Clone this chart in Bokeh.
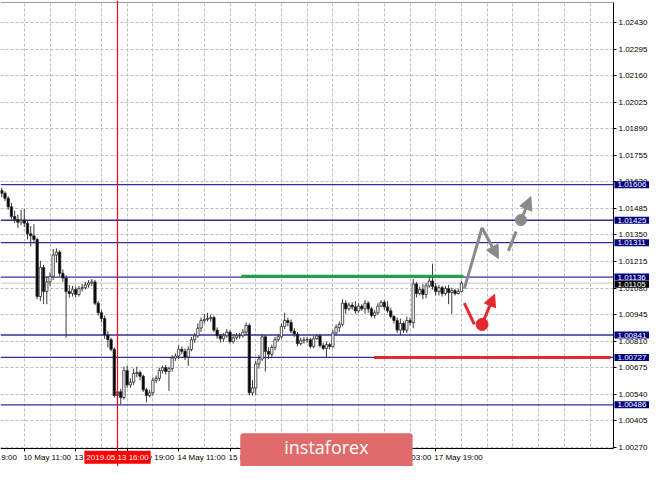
from bokeh.plotting import figure
from bokeh.models import (Range1d, FixedTicker, Label, Arrow, NormalHead, LinearAxis, Span,
                          ColumnDataSource, PrintfTickFormatter)
from bokeh.embed import file_html
from bokeh.resources import INLINE

# ---------------- data (H1 candles) ----------------
first_open = 1.01576
close = [1.01562, 1.01537, 1.01493, 1.01444, 1.01429, 1.01415, 1.01425, 1.01410, 1.01356, 1.01346,
         1.01327, 1.01037, 1.01184, 1.01062, 1.01111, 1.01140, 1.01248, 1.01263, 1.01155, 1.01131,
         1.01062, 1.01052, 1.01072, 1.01047, 1.01077, 1.01082, 1.01096, 1.01106, 1.01111, 1.01003,
         1.00954, 1.00925, 1.00841, 1.00817, 1.00768, 1.00533, 1.00552, 1.00523, 1.00660, 1.00587,
         1.00601, 1.00645, 1.00650, 1.00631, 1.00562, 1.00533, 1.00547, 1.00611, 1.00621, 1.00660,
         1.00675, 1.00655, 1.00670, 1.00724, 1.00734, 1.00768, 1.00758, 1.00729, 1.00768, 1.00817,
         1.00837, 1.00876, 1.00915, 1.00920, 1.00925, 1.00930, 1.00866, 1.00837, 1.00822, 1.00837,
         1.00856, 1.00807, 1.00827, 1.00837, 1.00837, 1.00856, 1.00890, 1.00547, 1.00572, 1.00694,
         1.00719, 1.00832, 1.00758, 1.00743, 1.00778, 1.00817, 1.00832, 1.00885, 1.00915, 1.00905,
         1.00861, 1.00846, 1.00797, 1.00812, 1.00817, 1.00817, 1.00783, 1.00822, 1.00837, 1.00788,
         1.00773, 1.00792, 1.00783, 1.00851, 1.00880, 1.00895, 1.01003, 1.00974, 1.00993, 1.00984,
         1.00964, 1.00988, 1.00974, 1.01003, 1.00974, 1.00940, 1.00954, 1.00988, 1.01008, 1.00984,
         1.00964, 1.00935, 1.00915, 1.00866, 1.00900, 1.00866, 1.00915, 1.00905, 1.01101, 1.01052,
         1.01072, 1.01047, 1.01091, 1.01116, 1.01087, 1.01062, 1.01082, 1.01052, 1.01077, 1.01057,
         1.01067, 1.01052, 1.01062, 1.01105]
high = [1.01591, 1.01572, 1.01547, 1.01513, 1.01474, 1.01454, 1.01478, 1.01483, 1.01425, 1.01395,
        1.01405, 1.01336, 1.01219, 1.01199, 1.01140, 1.01160, 1.01278, 1.01282, 1.01273, 1.01175,
        1.01145, 1.01096, 1.01091, 1.01087, 1.01091, 1.01101, 1.01111, 1.01121, 1.01126, 1.01121,
        1.01013, 1.00969, 1.00940, 1.00861, 1.00827, 1.00778, 1.00572, 1.00567, 1.00680, 1.00684,
        1.00621, 1.00670, 1.00680, 1.00660, 1.00640, 1.00572, 1.00562, 1.00626, 1.00635, 1.00675,
        1.00684, 1.00689, 1.00680, 1.00739, 1.00748, 1.00788, 1.00783, 1.00773, 1.00783, 1.00832,
        1.00851, 1.00900, 1.00930, 1.00949, 1.00954, 1.00944, 1.00940, 1.00880, 1.00846, 1.00851,
        1.00871, 1.00866, 1.00841, 1.00851, 1.00851, 1.00871, 1.00905, 1.00900, 1.00611, 1.00709,
        1.00739, 1.00846, 1.00841, 1.00778, 1.00792, 1.00832, 1.00846, 1.00900, 1.00954, 1.00930,
        1.00920, 1.00876, 1.00856, 1.00827, 1.00832, 1.00832, 1.00827, 1.00837, 1.00846, 1.00846,
        1.00802, 1.00807, 1.00802, 1.00866, 1.00895, 1.00910, 1.01023, 1.01018, 1.01008, 1.01008,
        1.01013, 1.01003, 1.00998, 1.01018, 1.01013, 1.00984, 1.00969, 1.01003, 1.01018, 1.01018,
        1.01013, 1.00979, 1.00944, 1.00930, 1.00925, 1.00910, 1.00935, 1.00930, 1.01126, 1.01111,
        1.01087, 1.01101, 1.01106, 1.01145, 1.01204, 1.01106, 1.01096, 1.01091, 1.01091, 1.01096,
        1.01082, 1.01077, 1.01077, 1.01116]
low = [1.01542, 1.01523, 1.01478, 1.01429, 1.01410, 1.01385, 1.01400, 1.01390, 1.01327, 1.01292,
       1.01307, 1.01023, 1.01013, 1.00998, 1.00998, 1.01091, 1.01121, 1.01209, 1.01140, 1.01111,
       1.00827, 1.01032, 1.01037, 1.01032, 1.01037, 1.01062, 1.01072, 1.01082, 1.01091, 1.00993,
       1.00940, 1.00905, 1.00822, 1.00778, 1.00758, 1.00523, 1.00513, 1.00488, 1.00513, 1.00572,
       1.00572, 1.00587, 1.00626, 1.00611, 1.00552, 1.00498, 1.00523, 1.00533, 1.00596, 1.00606,
       1.00645, 1.00640, 1.00557, 1.00655, 1.00709, 1.00719, 1.00743, 1.00714, 1.00684, 1.00758,
       1.00802, 1.00827, 1.00856, 1.00900, 1.00910, 1.00910, 1.00856, 1.00822, 1.00802, 1.00807,
       1.00827, 1.00797, 1.00797, 1.00817, 1.00822, 1.00827, 1.00841, 1.00533, 1.00533, 1.00537,
       1.00670, 1.00709, 1.00655, 1.00719, 1.00729, 1.00763, 1.00807, 1.00822, 1.00871, 1.00885,
       1.00851, 1.00832, 1.00783, 1.00788, 1.00797, 1.00802, 1.00773, 1.00773, 1.00817, 1.00778,
       1.00763, 1.00729, 1.00768, 1.00773, 1.00841, 1.00856, 1.00885, 1.00949, 1.00964, 1.00969,
       1.00949, 1.00954, 1.00964, 1.00949, 1.00954, 1.00930, 1.00925, 1.00944, 1.00984, 1.00969,
       1.00954, 1.00925, 1.00900, 1.00851, 1.00841, 1.00851, 1.00851, 1.00890, 1.00876, 1.01032,
       1.01042, 1.01023, 1.01028, 1.01082, 1.01072, 1.01042, 1.01042, 1.01037, 1.01042, 1.00998,
       1.00949, 1.01042, 1.01047, 1.01057]

# time axis (bar index -> label)
x_tick_bars = [7, 23, 39, 55, 71, 87, 103, 119, 135]
x_tick_labels = ["10 May 11:00", "13 May 03:00", "13 May 19:00", "14 May 11:00", "15 May 03:00",
                 "15 May 19:00", "16 May 11:00", "17 May 03:00", "17 May 19:00"]
x_grid_bars = [-1, 7, 15, 23, 31, 39, 47, 55, 63, 71, 79, 87, 95, 103, 111, 119, 127, 135,
               143, 151, 159, 167, 175, 183]
prev_label_bar = -9
prev_label_text = "9 May 19:00"

# price axis
y_ticks = [1.00270, 1.00405, 1.00540, 1.00675, 1.00810, 1.00945, 1.01080, 1.01215, 1.01350,
           1.01485, 1.01620, 1.01755, 1.01890, 1.02025, 1.02160, 1.02295, 1.02430]

# horizontal levels
level_prices = [1.01606, 1.01425, 1.01311, 1.01136, 1.00841, 1.00727, 1.00486]
current_price = 1.01105

# marked time
marked_bar = 36
marked_label = "2019.05.13 16:00"

# drawn lines / forecast
green_bars = [74.5, 143.6]
green_price = [1.01140, 1.01140]
red_bars = [115.8, 189.4]
red_price = [1.00727, 1.00727]

gray_path_x = [143.9, 149.4]
gray_path_y = [1.01077, 1.01387]
gray_arrow1 = (149.4, 1.01387, 154.5, 1.01230)
gray_dash_x = [157.6, 160.0]
gray_dash_y = [1.01269, 1.01368]
gray_dot = (161.5, 1.01426)
gray_arrow2 = (161.5, 1.01426, 164.6, 1.01545)

red_path_x = [143.9, 147.0]
red_path_y = [1.01003, 1.00895]
red_dot = (149.4, 1.00895)
red_arrow = (149.4, 1.00895, 153.3, 1.01048)

brand = "instaforex"
brand_bar = 101

# ---------------- geometry of the chart window ----------------
X0, X_CHART, X_CANVAS = -0.4, 190.3, 201.5          # bar units
Y_CANVAS_LO, Y_CHART_LO, Y_CHART_HI, Y_CANVAS_HI = 1.00172, 1.00265, 1.02533, 1.02543
LABEL_SHIFT = 7.1                                   # left-aligned time labels
FONT = "Liberation Sans"

p = figure(width=649, height=466, output_backend="svg", toolbar_location=None,
           x_range=Range1d(X0, X_CANVAS), y_range=Range1d(Y_CANVAS_LO, Y_CANVAS_HI),
           y_axis_location="right", min_border=0, min_border_left=0, min_border_right=0,
           min_border_top=0, min_border_bottom=0)
p.outline_line_color = None
p.background_fill_color = "white"
p.border_fill_color = "white"

# grids
for g in (p.xgrid, p.ygrid):
    g.grid_line_color = "#bdbdbd"
    g.grid_line_dash = "3 2"
    g.grid_line_width = 1
p.xgrid.ticker = FixedTicker(ticks=x_grid_bars)
p.ygrid.ticker = FixedTicker(ticks=y_ticks)

# white margins outside the chart area (hide grid there)
p.quad(left=[X_CHART, X0, X0], right=[X_CANVAS + 1, X_CANVAS + 1, X_CANVAS + 1],
       bottom=[Y_CANVAS_LO - 0.001, Y_CANVAS_LO - 0.001, Y_CHART_HI],
       top=[Y_CANVAS_HI + 0.001, Y_CHART_LO, Y_CANVAS_HI + 0.001],
       fill_color="white", line_color=None)

# x axis: tick marks
xa = p.xaxis[0]
xa.fixed_location = Y_CHART_LO
xa.ticker = FixedTicker(ticks=x_tick_bars)
xa.major_label_text_alpha = 0
xa.major_label_text_font_size = "8px"
xa.major_tick_in = 0
xa.major_tick_out = 3
xa.minor_tick_line_color = None
xa.axis_line_color = "black"
xa.major_tick_line_color = "black"
xa.bounds = (X0, X_CHART)

# x axis: labels (left aligned to tick marks)
label_bars = [b + LABEL_SHIFT for b in x_tick_bars]
xl = LinearAxis(fixed_location=Y_CHART_LO, ticker=FixedTicker(ticks=label_bars),
                major_label_overrides={b: t for b, t in zip(label_bars, x_tick_labels)},
                major_label_text_font=FONT, major_label_text_font_size="8px",
                major_label_text_color="black", major_label_standoff=2,
                major_tick_in=0, major_tick_out=3, major_tick_line_color=None,
                minor_tick_line_color=None, axis_line_color=None)
p.add_layout(xl, "below")

# y axis
ya = p.yaxis[0]
ya.fixed_location = X_CHART
ya.ticker = FixedTicker(ticks=y_ticks)
ya.formatter = PrintfTickFormatter(format="%.5f")
ya.major_label_text_font = FONT
ya.major_label_text_font_size = "8px"
ya.major_label_text_color = "black"
ya.major_label_standoff = 2
ya.major_tick_in = 0
ya.major_tick_out = 3
ya.minor_tick_line_color = None
ya.axis_line_color = "black"
ya.major_tick_line_color = "black"
ya.bounds = (Y_CHART_LO, Y_CHART_HI)

# top border
p.line([X0, X_CHART], [Y_CHART_HI, Y_CHART_HI], line_color="#9a9a9a", line_width=1)

# levels
p.line([X0, X_CHART], [current_price, current_price], line_color="#c4c4c4", line_width=1)
for v in level_prices:
    p.line([X0, X_CHART], [v, v], line_color="#2f2fa0", line_width=1.3)

# candles
bars = list(range(len(close)))
opens = [first_open] + close[:-1]
tops = [max(o, c) for o, c in zip(opens, close)]
bots = [min(o, c) for o, c in zip(opens, close)]
fills = ["white" if c >= o else "black" for o, c in zip(opens, close)]
src = ColumnDataSource(dict(bar=bars, high=high, low=low, top=tops, bottom=bots, fill=fills))
p.segment(x0="bar", y0="low", x1="bar", y1="high", source=src, line_color="#3a3a3a", line_width=1)
p.vbar(x="bar", width=0.72, top="top", bottom="bottom", fill_color="fill",
       line_color="#2a2a2a", line_width=0.8, source=src)

# drawn support / resistance
p.line(green_bars, green_price, line_color="#1fa34a", line_width=3)
p.line(red_bars, red_price, line_color="#e8262e", line_width=3)

# forecast arrows
GRAY = "#8a8a8a"
RED = "#e8262e"
p.line(gray_path_x, gray_path_y, line_color=GRAY, line_width=3)
p.add_layout(Arrow(x_start=gray_arrow1[0], y_start=gray_arrow1[1], x_end=gray_arrow1[2], y_end=gray_arrow1[3],
                   line_color=GRAY, line_width=3,
                   end=NormalHead(size=13, fill_color=GRAY, line_color=GRAY)))
p.line(gray_dash_x, gray_dash_y, line_color=GRAY, line_width=3)
p.scatter([gray_dot[0]], [gray_dot[1]], size=11, fill_color=GRAY, line_color=GRAY)
p.add_layout(Arrow(x_start=gray_arrow2[0], y_start=gray_arrow2[1], x_end=gray_arrow2[2], y_end=gray_arrow2[3],
                   line_color=GRAY, line_width=3,
                   end=NormalHead(size=13, fill_color=GRAY, line_color=GRAY)))

p.line(red_path_x, red_path_y, line_color=RED, line_width=3)
p.scatter([red_dot[0]], [red_dot[1]], size=12, fill_color=RED, line_color=RED)
p.add_layout(Arrow(x_start=red_arrow[0], y_start=red_arrow[1], x_end=red_arrow[2], y_end=red_arrow[3],
                   line_color=RED, line_width=3,
                   end=NormalHead(size=12, fill_color=RED, line_color=RED)))

# price boxes on the right scale
p.add_layout(Label(x=X_CHART, y=current_price, x_offset=1, y_offset=-1, text=f"{current_price:.5f}",
                   text_align="left", text_baseline="middle", text_font=FONT, text_font_size="8px",
                   text_color="white", background_fill_color="black",
                   padding=dict(left=3, right=4, top=1, bottom=1)))
for v in level_prices:
    p.add_layout(Label(x=X_CHART, y=v, x_offset=1, text=f"{v:.5f}",
                       text_align="left", text_baseline="middle", text_font=FONT, text_font_size="8px",
                       text_color="white", background_fill_color="#00007e",
                       padding=dict(left=3, right=4, top=1, bottom=1)))

# partially visible previous time label
p.add_layout(Label(x=prev_label_bar, y=Y_CHART_LO, y_offset=-5, text=prev_label_text,
                   text_align="left", text_baseline="top", text_font=FONT, text_font_size="8px",
                   text_color="black"))

# marked time line (vertical, red), on top of everything
p.add_layout(Span(location=marked_bar, dimension="height", line_color="#ff0000", line_width=1.2,
                  level="overlay"))

# marked time box
p.add_layout(Label(x=marked_bar, y=Y_CHART_LO, y_offset=-9, text=marked_label,
                   text_align="center", text_baseline="middle", text_font=FONT, text_font_size="8px",
                   text_color="white", background_fill_color="#ff0000",
                   padding=dict(left=2, right=2, top=2, bottom=2), level="overlay"))

# brand box
p.add_layout(Label(x=brand_bar, y=Y_CHART_LO, y_offset=-5, text=brand,
                   text_align="center", text_baseline="middle", text_font="Open Sans",
                   text_font_size="18px", text_color="white", background_fill_color="#e06b6b",
                   padding=dict(left=44, right=44, top=2, bottom=14), border_radius=3))

open("out.html", "w").write(file_html(p, INLINE))
